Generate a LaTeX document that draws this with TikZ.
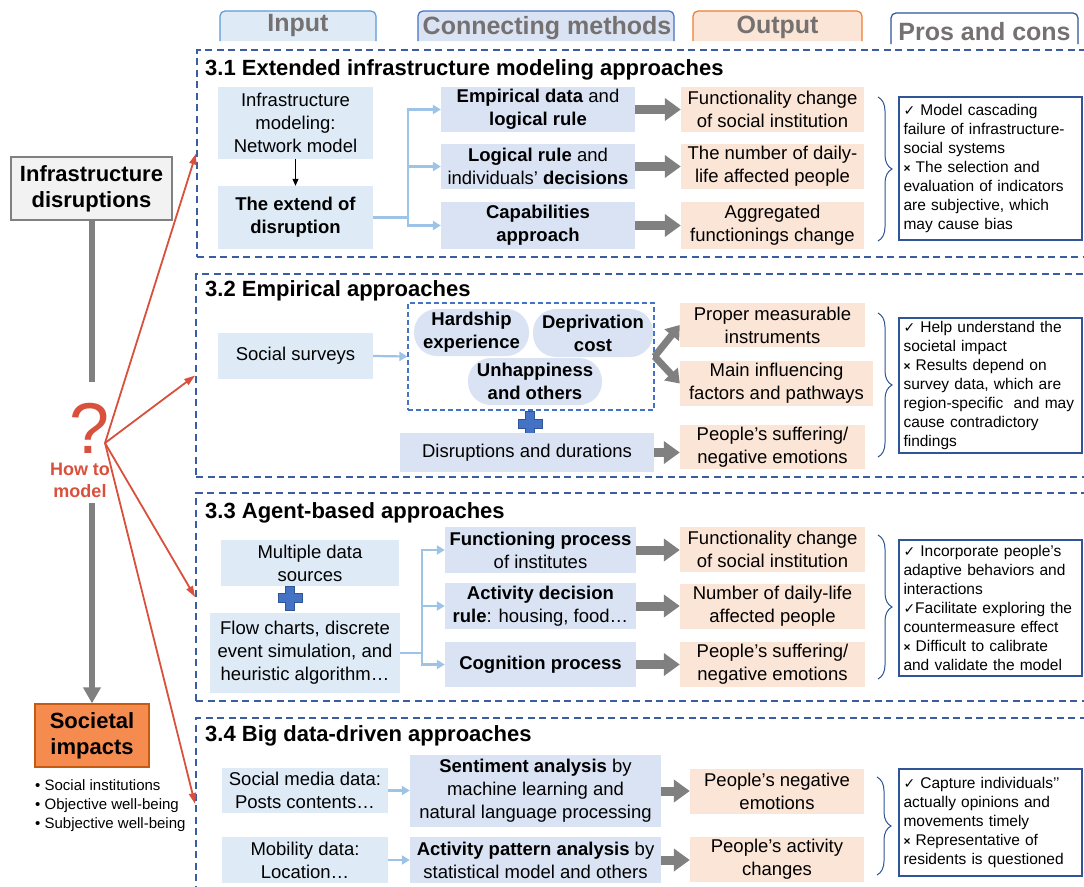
\documentclass[tikz,border=0pt]{standalone}
\usepackage{fontspec}
\setmainfont{Liberation Sans}
\newfontfamily\dejavu{DejaVu Sans}
\usetikzlibrary{arrows.meta,decorations.pathreplacing,calc}

\definecolor{inblue}{HTML}{DEEBF7}
\definecolor{mblue}{HTML}{DAE3F3}
\definecolor{opeach}{HTML}{FBE5D6}
\definecolor{secblue}{HTML}{3A5DA0}
\definecolor{grpblue}{HTML}{4472C4}
\definecolor{lblue}{HTML}{9DC3E6}
\definecolor{gline}{HTML}{808080}
\definecolor{redq}{HTML}{D9503C}
\definecolor{tabgray}{HTML}{767171}
\definecolor{pcblue}{HTML}{2F5597}
\definecolor{socfill}{HTML}{F68B4F}
\definecolor{socdraw}{HTML}{C55A11}
\definecolor{tabin}{HTML}{5B9BD5}
\definecolor{taborange}{HTML}{ED7D31}
\definecolor{infrafill}{HTML}{F2F2F2}

\newcommand\fsMed{\fontsize{18.5}{23}\selectfont}
\newcommand\fsSmall{\fontsize{15.5}{19}\selectfont}
\newcommand\fsTitle{\fontsize{22}{26}\selectfont\bfseries}
\newcommand\fsTab{\fontsize{25}{30}\selectfont\bfseries}
\newcommand\ck{{\dejavu\fontsize{14}{19}\selectfont ✓}}
\newcommand\xx{{\fontsize{12}{19}\selectfont\bfseries ×}}

\tikzset{
  inbox/.style={fill=inblue, inner sep=0pt, align=center, font=\fsMed},
  mbox/.style={fill=mblue, inner sep=0pt, align=center, font=\fsMed},
  obox/.style={fill=opeach, inner sep=0pt, align=center, font=\fsMed},
  ellbox/.style={fill=mblue, rounded corners=23pt, inner sep=0pt, align=center, font=\fsMed\bfseries},
  probox/.style={draw=pcblue, line width=1.3pt, fill=white, align=left, font=\fsSmall, text width=174pt, inner xsep=4.5pt, inner ysep=0pt},
  secbox/.style={draw=secblue, line width=1.8pt, dash pattern=on 7pt off 4.5pt, inner sep=0pt},
  grpbox/.style={draw=grpblue, line width=1.2pt, dash pattern=on 5pt off 3pt, inner sep=0pt},
  sectitle/.style={anchor=west, font=\fsTitle, inner sep=0pt},
  lbline/.style={draw=lblue, line width=2.2pt},
  lbarrow/.style={lbline, -{Triangle[length=8pt,width=9pt]}},
  garrow/.style={draw=gline, line width=9pt, -{Triangle[length=16pt,width=22pt]}},
  gdiv/.style={draw=gline, line width=7pt, -{Triangle[length=13pt,width=18pt]}},
  redarrow/.style={draw=redq, line width=1.8pt, -{Triangle[length=11pt,width=7pt]}},
  tabtxt/.style={font=\fsTab, text=tabgray, inner sep=0pt},
  brc/.style={draw=pcblue, line width=1pt, decorate, decoration={brace, amplitude=14pt}},
  plussign/.pic={\path[fill=grpblue, draw=pcblue, line width=0.8pt] (-4.5,-12) -- (4.5,-12) -- (4.5,-4.5) -- (12,-4.5) -- (12,4.5) -- (4.5,4.5) -- (4.5,12) -- (-4.5,12) -- (-4.5,4.5) -- (-12,4.5) -- (-12,-4.5) -- (-4.5,-4.5) -- cycle;}
}

\begin{document}
\begin{tikzpicture}[x=1pt,y=-1pt]
\useasboundingbox[fill=white] (0,0) rectangle (1084,886);

% section frames
\node[secbox, minimum width=893pt, minimum height=207pt] (sec1) at (643.5,153.5) {};
\node[secbox, minimum width=894pt, minimum height=203pt] (sec2) at (643,375.5) {};
\node[secbox, minimum width=894pt, minimum height=208pt] (sec3) at (643,597) {};
\node[secbox, minimum width=894pt, minimum height=172pt] (sec4) at (643,804) {};

% header tabs
\path[fill=inblue, draw=tabin, line width=1.2pt, rounded corners=5pt] (220,41) -- (220,11) -- (376,11) -- (376,41);
\node[tabtxt] (tabIn) at (298,25.5) {Input};
\path[fill=mblue, draw=grpblue, line width=1.2pt, rounded corners=5pt] (418,41) -- (418,11) -- (674,11) -- (674,41);
\node[tabtxt] (tabCm) at (547,28) {Connecting methods};
\path[fill=opeach, draw=taborange, line width=1.2pt, rounded corners=5pt] (693,41) -- (693,11) -- (862,11) -- (862,41);
\node[tabtxt] (tabOut) at (777.5,27) {Output};
\path[fill=white, draw=pcblue, line width=1.2pt, rounded corners=5pt] (891,44) -- (891,13) -- (1078,13) -- (1078,44);
\node[tabtxt] (tabPc) at (984.5,32) {Pros and cons};

% left column
\node[draw=gline, line width=1.5pt, fill=infrafill, minimum width=161pt, minimum height=63pt, align=center, font=\fsTitle, inner sep=0pt] (infra) at (91.5,188.5) {Infrastructure\\disruptions};
\coordinate (qtop) at (91.5,382);
\draw[draw=gline, line width=6pt] (infra.south) -- (qtop);
\node[text=redq, font=\fontsize{72}{72}\selectfont, inner sep=0pt] (qm) at (90,428.5) {?};
\node[text=redq, font=\fontsize{18}{22}\selectfont\bfseries, align=center, inner sep=0pt] (how) at (80,480) {How to\\model};
\node[fill=socfill, draw=socdraw, line width=1.3pt, minimum width=114pt, minimum height=63pt, align=center, font=\fsTitle, inner sep=0pt] (soc) at (92,735.5) {Societal\\impacts};
\coordinate (mdl) at (92,503);
\draw[draw=gline, line width=6pt, -{Triangle[length=16pt,width=17pt]}] (mdl) -- (soc.north);
\node[anchor=north west, align=left, font=\fontsize{15}{19}\selectfont, inner sep=0pt] (bul) at (35,779) {• Social institutions\\• Objective well-being\\• Subjective well-being};

% ===== 3.1 =====
\node[sectitle] (t1) at (205,69.5) {3.1 Extended infrastructure modeling approaches};
\node[inbox, minimum width=155pt, minimum height=72pt] (i1) at (295.5,123) {Infrastructure\\modeling:\\Network model};
\node[inbox, minimum width=155pt, minimum height=63pt, font=\fsMed\bfseries] (i2) at (295.5,217.5) {The extend of\\disruption};
\node[mbox, minimum width=194pt, minimum height=45pt] (m1) at (538,109.5) {\textbf{Empirical data} and\\\textbf{logical rule}};
\node[mbox, minimum width=194pt, minimum height=45pt] (m2) at (538,166.5) {\textbf{Logical rule} and\\individuals’ \textbf{decisions}};
\node[mbox, minimum width=194pt, minimum height=47pt, font=\fsMed\bfseries] (m3) at (538,225.5) {Capabilities\\approach};
\node[obox, minimum width=183pt, minimum height=45pt] (o1) at (772.5,109.5) {Functionality change\\of social institution};
\node[obox, minimum width=183pt, minimum height=45pt] (o2) at (772.5,166.5) {The number of daily-\\life affected people};
\node[obox, minimum width=183pt, minimum height=47pt] (o3) at (772.5,225.5) {Aggregated\\functionings change};
\node[probox, minimum height=143pt] (p1) at (990.5,168.5) {\ck{} Model cascading\\failure of infrastructure-\\social systems\\\xx{} The selection and\\evaluation of indicators\\are subjective, which\\may cause bias};
\draw[brc] (878,97) -- (878,241);
\draw[black, line width=0.8pt, -{Triangle[length=7pt,width=6pt]}] (i1.south) -- (i2.north);
\draw[lbline] (i2.east) -- ++(35,0) coordinate (j1);
\draw[lbarrow] (j1) |- (m1.west);
\draw[lbarrow] (j1) |- (m2.west);
\draw[lbarrow] (j1) |- (m3.west);
\draw[garrow] (m1.east) -- (m1.east -| o1.west);
\draw[garrow] (m2.east) -- (m2.east -| o2.west);
\draw[garrow] (m3.east) -- (m3.east -| o3.west);

% ===== 3.2 =====
\node[sectitle] (t2) at (205,290.5) {3.2 Empirical approaches};
\node[inbox, minimum width=155pt, minimum height=46pt] (s1) at (295.5,356) {Social surveys};
\node[grpbox, minimum width=246pt, minimum height=107pt] (grp) at (531,356.5) {};
\node[ellbox, minimum width=115pt, minimum height=47pt] (e1) at (471.5,332.5) {Hardship\\experience};
\node[ellbox, minimum width=120pt, minimum height=48pt] (e2) at (593,333) {Deprivation\\cost};
\node[ellbox, minimum width=134pt, minimum height=47pt] (e3) at (535,381.5) {Unhappiness\\and others};
\pic at (530,423.5) {plussign};
\node[inbox, fill=mblue, minimum width=254pt, minimum height=39pt] (d1) at (527,452.5) {Disruptions and durations};
\node[obox, minimum width=185pt, minimum height=44pt] (o21) at (772.5,325) {Proper measurable\\instruments};
\node[obox, minimum width=193pt, minimum height=45pt] (o22) at (776.5,383.5) {Main influencing\\factors and pathways};
\node[obox, minimum width=185pt, minimum height=44pt] (o23) at (772.5,447) {People’s suffering/\\negative emotions};
\node[probox, minimum height=135pt] (p2) at (990.5,385.5) {\ck{} Help understand the\\societal impact\\\xx{} Results depend on\\survey data, which are\\region-specific\ \ and may\\cause contradictory\\findings};
\draw[brc] (878,313) -- (878,457);
\draw[lbarrow] (s1.east) -- (grp.west);
\draw[gdiv] (grp.east) -- (o21.west);
\draw[gdiv] (grp.east) -- (o22.west);
\draw[garrow] (d1.east) -- (d1.east -| o23.west);

% ===== 3.3 =====
\node[sectitle] (t3) at (205,512.5) {3.3 Agent-based approaches};
\node[inbox, minimum width=178pt, minimum height=46pt] (i31) at (310,563) {Multiple data\\sources};
\pic at (290,598) {plussign};
\node[inbox, minimum width=190pt, minimum height=80pt] (i32) at (305,653) {Flow charts, discrete\\event simulation, and\\heuristic algorithm…};
\node[mbox, minimum width=191pt, minimum height=46pt] (m31) at (540.5,550) {\textbf{Functioning process}\\of institutes};
\node[mbox, minimum width=191pt, minimum height=46pt] (m32) at (540.5,606) {\textbf{Activity decision}\\\textbf{rule}: housing, food…};
\node[mbox, minimum width=191pt, minimum height=45pt, font=\fsMed\bfseries] (m33) at (540.5,664.5) {Cognition process};
\node[obox, minimum width=185pt, minimum height=45pt] (o31) at (772.5,549.5) {Functionality change\\of social institution};
\node[obox, minimum width=185pt, minimum height=45pt] (o32) at (772.5,606) {Number of daily-life\\affected people};
\node[obox, minimum width=185pt, minimum height=45pt] (o33) at (772.5,664.5) {People’s suffering/\\negative emotions};
\node[probox, minimum height=136pt] (p3) at (990.5,608) {\ck{} Incorporate people’s\\adaptive behaviors and\\interactions\\\ck{}Facilitate exploring the\\countermeasure effect\\\xx{} Difficult to calibrate\\and validate the model};
\draw[brc] (878,535) -- (878,679);
\draw[lbline] (i32.east) -- ++(22,0) coordinate (j3);
\draw[lbarrow] (j3) |- (m31.west);
\draw[lbarrow] (j3) |- (m32.west);
\draw[lbarrow] (j3) |- (m33.west);
\draw[garrow] (m31.east) -- (m31.east -| o31.west);
\draw[garrow] (m32.east) -- (m32.east -| o32.west);
\draw[garrow] (m33.east) -- (m33.east -| o33.west);

% ===== 3.4 =====
\node[sectitle] (t4) at (205,735.5) {3.4 Big data-driven approaches};
\node[inbox, minimum width=166pt, minimum height=45pt] (i41) at (305,790.5) {Social media data:\\Posts contents…};
\node[mbox, minimum width=251pt, minimum height=72pt] (m41) at (535.5,791) {\textbf{Sentiment analysis} by\\machine learning and\\natural language processing};
\node[inbox, minimum width=166pt, minimum height=46pt] (i42) at (305,860) {Mobility data:\\Location…};
\node[mbox, minimum width=251pt, minimum height=46pt] (m42) at (535.5,860) {\textbf{Activity pattern analysis} by\\statistical model and others};
\node[obox, minimum width=174pt, minimum height=45pt] (o41) at (777,791.5) {People’s negative\\emotions};
\node[obox, minimum width=174pt, minimum height=45pt] (o42) at (777,859.5) {People’s activity\\changes};
\node[probox, minimum height=107pt] (p4) at (990.5,822.5) {\ck{} Capture individuals’’\\actually opinions and\\movements timely\\\xx{} Representative of\\residents is questioned};
\draw[brc] (877,777) -- (877,875);
\draw[lbarrow] (i41.east) -- (i41.east -| m41.west);
\draw[lbarrow] (i42.east) -- (i42.east -| m42.west);
\draw[garrow] (m41.east) -- (m41.east -| o41.west);
\draw[garrow] (m42.east) -- (m42.east -| o42.west);

% red arrows
\coordinate (q0) at (105,443);
\draw[redarrow] (q0) -- (sec1.west);
\draw[redarrow] (q0) -- (sec2.west);
\draw[redarrow] (q0) -- (sec3.west);
\draw[redarrow] (q0) -- (sec4.west);
\end{tikzpicture}
\end{document}
